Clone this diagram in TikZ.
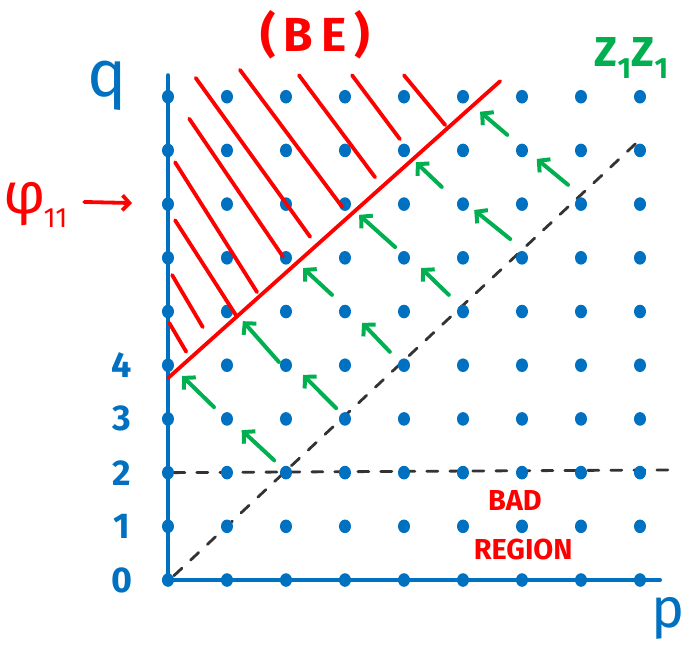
\documentclass[tikz,border=0pt]{standalone}
\usepackage{fontspec}
\setmainfont{Fira Sans}
\usetikzlibrary{arrows.meta}
\definecolor{dotblue}{HTML}{0070C0}
\definecolor{hatchred}{HTML}{FF0000}
\definecolor{pushgreen}{HTML}{00B050}
\definecolor{guidegray}{HTML}{333333}

\begin{document}
\begin{tikzpicture}[x=59bp, y=53.7bp, line cap=round,
  every node/.style={inner sep=0pt},
  axis/.style={dotblue, line width=4bp},
  hatch/.style={hatchred, line width=3.8bp},
  push/.style={pushgreen, line width=4bp, -{Straight Barb[length=8bp,width=17bp]}},
  guide/.style={guidegray, line width=2.8bp, dash pattern=on 11bp off 12bp}]
\useasboundingbox (-2.847,-1.285) rectangle (8.729,10.801);
% dashed guides
\draw[guide] (0.1,0.08) -- (7.95,8.15);
\draw[guide] (0.1,2) -- (8.5,2.05);
% axes
\draw[axis] (0,9.4) -- (0,0) -- (8.34,0);
% lattice points
\foreach \i in {0,...,8}
  \foreach \j in {0,...,9}
    \fill[dotblue] (\i,\j) circle [x radius=6bp, y radius=6.8bp];
% boundary and hatching
\draw[hatch] (0,3.76) -- (5.63,9.29);
\draw[hatch] (0.47,9.35) -- (2.41,6.39);
\draw[hatch] (1.22,9.5) -- (2.95,6.95);
\draw[hatch] (2.22,9.4) -- (3.51,7.5);
\draw[hatch] (3.12,9.4) -- (3.93,8.21);
\draw[hatch] (4.0,9.4) -- (4.7,8.47);
\draw[hatch] (0.36,8.59) -- (1.95,6.02);
\draw[hatch] (0.12,7.78) -- (1.51,5.36);
\draw[hatch] (0.12,6.7) -- (1.17,4.9);
\draw[hatch] (0.07,5.68) -- (0.59,4.71);
\draw[hatch] (0.02,4.79) -- (0.31,4.25);
% flow towards the boundary
\draw[push] (0.78,3.22) -- (0.24,3.8);
\draw[push] (1.80,2.23) -- (1.25,2.79);
\draw[push] (2.85,3.20) -- (2.29,3.82);
\draw[push] (1.88,4.06) -- (1.27,4.82);
\draw[push] (3.76,4.25) -- (3.29,4.79);
\draw[push] (2.78,5.31) -- (2.29,5.81);
\draw[push] (4.76,5.31) -- (4.29,5.81);
\draw[push] (3.85,6.20) -- (3.24,6.80);
\draw[push] (5.80,6.35) -- (5.19,6.89);
\draw[push] (4.64,7.32) -- (4.20,7.78);
\draw[push] (6.78,7.36) -- (6.25,7.84);
\draw[push] (5.75,8.29) -- (5.29,8.72);
% labels
\foreach \n in {0,...,4}
  \node[dotblue, font=\bfseries\fontsize{36}{36}\selectfont] (num\n) at (-0.78,\n) {\n};
\node[dotblue, font=\fontsize{66}{66}\selectfont] (qlab) at (-1.03,9.2) {q};
\node[dotblue, font=\fontsize{56}{56}\selectfont] (plab) at (8.47,-0.72) {p};
\node[hatchred, font=\bfseries\fontsize{48}{48}\selectfont] (be) at (2.49,10.15) {(\,B\,E\,)};
\node[pushgreen, font=\bfseries\fontsize{42}{42}\selectfont] (zz) at (7.86,9.72) {Z\textsubscript{1}Z\textsubscript{1}};
\node[hatchred, anchor=east, font=\fontsize{58}{58}\selectfont] (phi) at (-1.7,6.98)
  {φ\kern-2bp\raisebox{-14bp}{\fontsize{28}{28}\selectfont 11}};
\coordinate (phitip) at (-0.61,7.02);
\draw[hatchred, line width=3.8bp, -{Straight Barb[length=7bp,width=15bp]}] (-1.42,7.04) -- (phitip);
\node[hatchred, font=\bfseries\fontsize{29}{29}\selectfont] (bad) at (5.88,1.49) {BAD};
\node[hatchred, font=\bfseries\fontsize{29}{29}\selectfont] (region) at (6.02,0.56) {REGION};
\end{tikzpicture}
\end{document}
